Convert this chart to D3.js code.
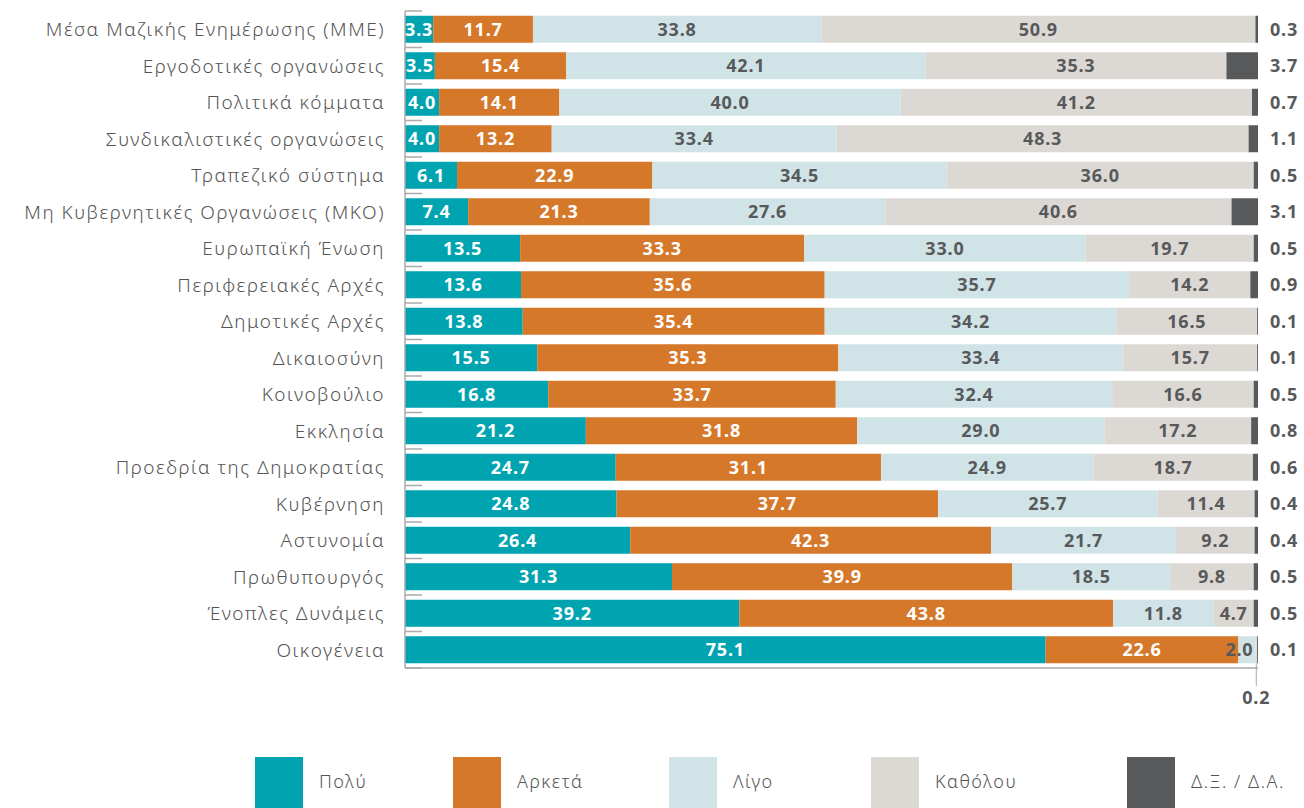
<!DOCTYPE html>
<html>
  <head>
    <meta charset="utf-8" />
    <title>Εμπιστοσύνη σε θεσμούς</title>
    <style>
      body {
        margin: 0;
        background: #fff;
      }
      svg {
        display: block;
        font-family: "Noto Sans", "Open Sans", sans-serif;
      }
      .cat {
        font-size: 19px;
        fill: #555;
        font-weight: 300;
        letter-spacing: 1.5px;
      }
      .val {
        font-size: 18px;
        font-weight: 700;
        letter-spacing: 0.8px;
      }
      .leg {
        font-size: 18px;
        fill: #555;
        font-weight: 300;
        letter-spacing: 1.5px;
      }
    </style>
  </head>
  <body>
    <svg id="chart"></svg>
    <script src="https://cdn.jsdelivr.net/npm/d3@7"></script>
    <script>
      const categories = [
        "Μέσα Μαζικής Ενημέρωσης (ΜΜΕ)",
        "Εργοδοτικές οργανώσεις",
        "Πολιτικά κόμματα",
        "Συνδικαλιστικές οργανώσεις",
        "Τραπεζικό σύστημα",
        "Μη Κυβερνητικές Οργανώσεις (ΜΚΟ)",
        "Ευρωπαϊκή Ένωση",
        "Περιφερειακές Αρχές",
        "Δημοτικές Αρχές",
        "Δικαιοσύνη",
        "Κοινοβούλιο",
        "Εκκλησία",
        "Προεδρία της Δημοκρατίας",
        "Κυβέρνηση",
        "Αστυνομία",
        "Πρωθυπουργός",
        "Ένοπλες Δυνάμεις",
        "Οικογένεια"
      ];

      const seriesNames = ["Πολύ", "Αρκετά", "Λίγο", "Καθόλου", "Δ.Ξ. / Δ.Α."];
      const seriesColors = ["#00a4b1", "#d6782a", "#d0e3e7", "#dcd8d4", "#58595b"];

      const poly = [3.3, 3.5, 4.0, 4.0, 6.1, 7.4, 13.5, 13.6, 13.8, 15.5, 16.8, 21.2, 24.7, 24.8, 26.4, 31.3, 39.2, 75.1];
      const arketa = [11.7, 15.4, 14.1, 13.2, 22.9, 21.3, 33.3, 35.6, 35.4, 35.3, 33.7, 31.8, 31.1, 37.7, 42.3, 39.9, 43.8, 22.6];
      const ligo = [33.8, 42.1, 40.0, 33.4, 34.5, 27.6, 33.0, 35.7, 34.2, 33.4, 32.4, 29.0, 24.9, 25.7, 21.7, 18.5, 11.8, 2.0];
      const katholou = [50.9, 35.3, 41.2, 48.3, 36.0, 40.6, 19.7, 14.2, 16.5, 15.7, 16.6, 17.2, 18.7, 11.4, 9.2, 9.8, 4.7, 0.2];
      const dkna = [0.3, 3.7, 0.7, 1.1, 0.5, 3.1, 0.5, 0.9, 0.1, 0.1, 0.5, 0.8, 0.6, 0.4, 0.4, 0.5, 0.5, 0.1];

      const width = 1304;
      const height = 808;
      const plotLeft = 405;
      const plotRight = 1258;
      const plotTop = 11;
      const plotBottom = 668;

      const svg = d3.select("#chart").attr("width", width).attr("height", height);

      const rows = categories.map((c, i) => ({
        cat: c,
        values: [poly[i], arketa[i], ligo[i], katholou[i], dkna[i]]
      }));

      const x = d3.scaleLinear().domain([0, 100]).range([plotLeft, plotRight]);
      const y = d3
        .scaleBand()
        .domain(categories)
        .range([plotTop, plotBottom])
        .paddingInner(0.26)
        .paddingOuter(0.13);

      // stacked segments
      rows.forEach((r) => {
        let acc = 0;
        r.segs = r.values.map((v, k) => {
          const s = { k: k, x0: acc, x1: acc + v, v: v, cat: r.cat };
          acc += v;
          return s;
        });
      });

      const g = svg.append("g");

      const rowG = g
        .selectAll("g.row")
        .data(rows)
        .join("g")
        .attr("class", "row");

      rowG
        .selectAll("rect")
        .data((d) => d.segs)
        .join("rect")
        .attr("x", (d) => x(d.x0))
        .attr("y", (d) => y(d.cat))
        .attr("width", (d) => Math.max(0, x(d.x1) - x(d.x0)))
        .attr("height", y.bandwidth())
        .attr("fill", (d) => seriesColors[d.k]);

      // value labels inside bars (first four series)
      // a narrow segment at the right edge gets its label pulled back inside
      const squeezed = (d) => d.k >= 2 && d.v < 3 && d.x1 > 99;
      rowG
        .selectAll("text.val")
        .data((d) => d.segs.filter((s) => s.k < 4 && s.v >= 1))
        .join("text")
        .attr("class", "val")
        .attr("x", (d) => (squeezed(d) ? x(d.x1) - 2 : x((d.x0 + d.x1) / 2)))
        .attr("y", (d) => y(d.cat) + y.bandwidth() / 2)
        .attr("dy", "0.36em")
        .attr("text-anchor", (d) => (squeezed(d) ? "end" : "middle"))
        .attr("fill", (d) => (d.k < 2 ? "#fff" : "#58595b"))
        .text((d) => d.v.toFixed(1));

      // tiny values go below the bar with a leader line
      const tiny = rows.flatMap((r) => r.segs.filter((s) => s.k < 4 && s.v < 1));
      tiny.forEach((d) => {
        const cx = x((d.x0 + d.x1) / 2);
        g.append("line")
          .attr("x1", cx)
          .attr("x2", cx)
          .attr("y1", y(d.cat) + y.bandwidth())
          .attr("y2", plotBottom + 18)
          .attr("stroke", "#aaa")
          .attr("stroke-width", 1);
        g.append("text")
          .attr("class", "val")
          .attr("x", cx)
          .attr("y", plotBottom + 30)
          .attr("dy", "0.36em")
          .attr("text-anchor", "middle")
          .attr("fill", "#58595b")
          .text(d.v.toFixed(1));
      });

      // Δ.Ξ. / Δ.Α. column
      g.selectAll("text.dk")
        .data(rows)
        .join("text")
        .attr("class", "val dk")
        .attr("x", plotRight + 12)
        .attr("y", (d) => y(d.cat) + y.bandwidth() / 2)
        .attr("dy", "0.36em")
        .attr("fill", "#58595b")
        .text((d) => d.values[4].toFixed(1));

      // category labels
      g.selectAll("text.cat")
        .data(categories)
        .join("text")
        .attr("class", "cat")
        .attr("x", plotLeft - 20)
        .attr("y", (d) => y(d) + y.bandwidth() / 2)
        .attr("dy", "0.36em")
        .attr("text-anchor", "end")
        .text((d) => d);

      // axes
      const tickYs = categories
        .map((c) => y(c) - (y.step() * y.paddingInner()) / 2)
        .concat([plotBottom]);
      g.selectAll("line.tick")
        .data(tickYs)
        .join("line")
        .attr("class", "tick")
        .attr("x1", plotLeft)
        .attr("x2", plotLeft + 17)
        .attr("y1", (d) => d)
        .attr("y2", (d) => d)
        .attr("stroke", "#aaa")
        .attr("stroke-width", 1.5);
      g.append("line")
        .attr("x1", plotLeft)
        .attr("x2", plotLeft)
        .attr("y1", plotTop)
        .attr("y2", plotBottom)
        .attr("stroke", "#aaa")
        .attr("stroke-width", 1.5);
      g.append("line")
        .attr("x1", plotLeft)
        .attr("x2", plotRight)
        .attr("y1", plotBottom)
        .attr("y2", plotBottom)
        .attr("stroke", "#aaa")
        .attr("stroke-width", 1.5);

      // legend
      const legendX = [255, 453, 669, 871, 1127];
      const leg = svg
        .selectAll("g.legend")
        .data(seriesNames)
        .join("g")
        .attr("class", "legend")
        .attr("transform", (d, i) => `translate(${legendX[i]},757)`);
      leg.append("rect")
        .attr("width", 48)
        .attr("height", 52)
        .attr("fill", (d, i) => seriesColors[i]);
      leg.append("text")
        .attr("class", "leg")
        .attr("x", 64)
        .attr("y", 25)
        .attr("dy", "0.36em")
        .text((d) => d);
    </script>
  </body>
</html>
